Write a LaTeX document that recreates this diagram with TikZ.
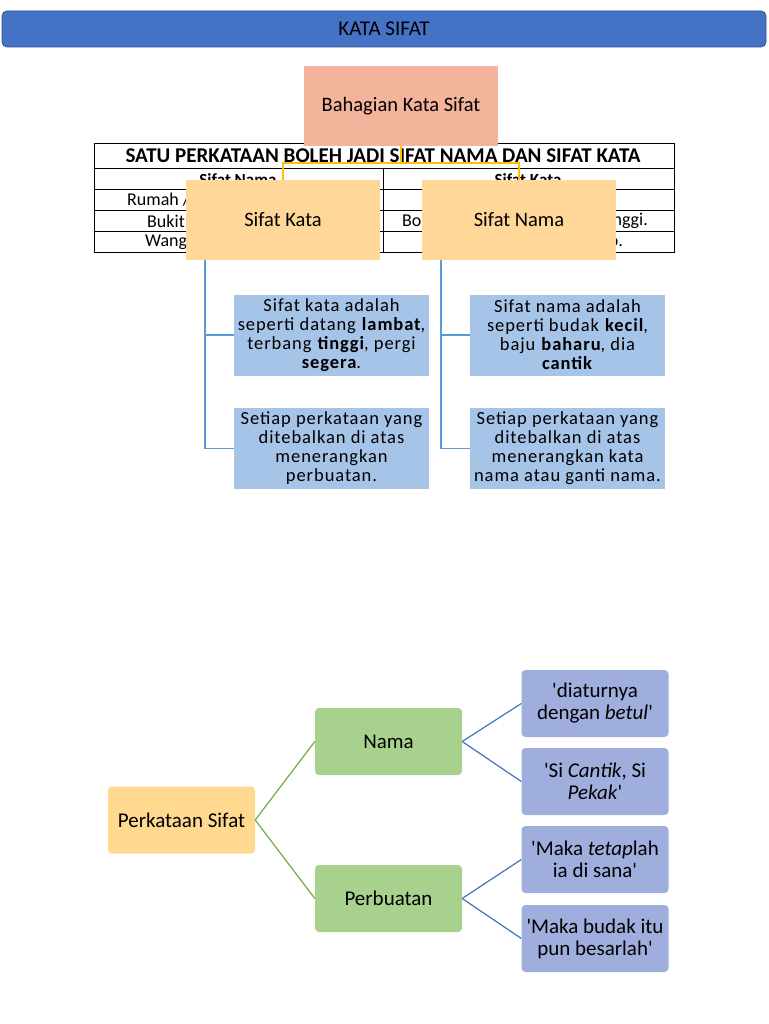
\documentclass[tikz,border=0pt]{standalone}
\usepackage{fontspec}
\setmainfont{Carlito}[Ligatures=TeXOff]
\usetikzlibrary{calc}
\definecolor{titleblue}{HTML}{4472C4}
\definecolor{titleedge}{HTML}{2F528F}
\definecolor{salmon}{HTML}{F4B49C}
\definecolor{peach}{HTML}{FFD899}
\definecolor{lblue}{HTML}{A6C3E8}
\definecolor{linkblue}{HTML}{5B9BD5}
\definecolor{yel}{HTML}{FFC000}
\definecolor{orng}{HTML}{FFD98F}
\definecolor{grn}{HTML}{A9D18E}
\definecolor{grnline}{HTML}{70AD47}
\definecolor{lav}{HTML}{A0AEDD}
\definecolor{lavline}{HTML}{4472C4}
\tikzset{
  box/.style={rectangle, inner sep=0pt, align=center, font=\fontsize{18.5}{19}\selectfont},
  topbox/.style={box, minimum width=194pt, minimum height=80pt, font=\fontsize{20.5}{24}\selectfont},
  bluebox/.style={box, fill=lblue, minimum width=195pt, minimum height=81pt, font=\fontsize{18.5}{19}\selectfont\addfontfeature{LetterSpace=5}},
  rbox/.style={rectangle, rounded corners=4pt, inner sep=0pt, align=center, minimum width=147pt, minimum height=67pt, font=\fontsize{21}{22}\selectfont},
  tcell/.style={inner sep=0pt, font=\fontsize{18}{20}\selectfont},
}
\begin{document}
\begin{tikzpicture}[x=1pt,y=-1pt]
\useasboundingbox (0,0) rectangle (768,1024);
\fill[white] (0,0) rectangle (768,1024);
% title
\node[rectangle, rounded corners=5pt, fill=titleblue, draw=titleedge, line width=0.8pt, minimum width=764pt, minimum height=36pt, inner sep=0pt, font=\fontsize{21}{24}\selectfont] (title) at (384,29) {KATA SIFAT};
% table
\draw[black, line width=0.9pt] (94,143) rectangle (674,252);
\foreach \yy in {168,189,210,231} \draw[black, line width=0.9pt] (94,\yy) -- (674,\yy);
\draw[black, line width=0.9pt] (383,168) -- (383,252);
\node[tcell, font=\bfseries\fontsize{21}{24}\selectfont] (thead) at (383,156) {SATU PERKATAAN BOLEH JADI SIFAT NAMA DAN SIFAT KATA};
\node[tcell, font=\bfseries\fontsize{17}{20}\selectfont] (tsn) at (238,179.5) {Sifat Nama};
\node[tcell, font=\bfseries\fontsize{17}{20}\selectfont] (tsk) at (528,179.5) {Sifat Kata};
\node[tcell, anchor=west] (r1) at (127,200) {Rumah /};
\node[tcell, anchor=west] (r2) at (147,221) {Bukit};
\node[tcell, anchor=west] (r3) at (145,242) {Wang};
\node[tcell, anchor=west] (r4) at (402,221) {Bo};
\node[tcell, anchor=east] (r5) at (648,221) {nggi.};
\node[tcell, anchor=east] (r6) at (623,242) {o.};
% bahagian
\node[topbox, fill=salmon] (bah) at (401,106) {Bahagian Kata Sifat};
\coordinate (ym) at (401,163);
\draw[yel, line width=1.1pt] (bah.south) -- (ym);
% sifat boxes
\node[topbox, fill=peach] (sk) at (283,220) {Sifat Kata};
\node[topbox, fill=peach] (sn) at (519,220) {Sifat Nama};
\draw[yel, line width=1.1pt] (ym) -| (sk.north);
\draw[yel, line width=1.1pt] (ym) -| (sn.north);
% blue boxes
\node[bluebox] (b1) at (331.5,335) {Sifat kata adalah\\seperti datang \textbf{lambat},\\terbang \textbf{tinggi}, pergi\\\textbf{segera}.};
\node[bluebox] (b2) at (331.5,448.5) {Setiap perkataan yang\\ditebalkan di atas\\menerangkan\\perbuatan.};
\node[bluebox] (b3) at (567.5,335) {Sifat nama adalah\\seperti budak \textbf{kecil},\\baju \textbf{baharu}, dia\\\textbf{cantik}};
\node[bluebox] (b4) at (567.5,448.5) {Setiap perkataan yang\\ditebalkan di atas\\menerangkan kata\\nama atau ganti nama.};
\coordinate (skb) at (205,260);
\coordinate (snb) at (441,260);
\draw[linkblue, line width=1.4pt] (skb) |- (b1.west);
\draw[linkblue, line width=1.4pt] (skb) |- (b2.west);
\draw[linkblue, line width=1.4pt] (snb) |- (b3.west);
\draw[linkblue, line width=1.4pt] (snb) |- (b4.west);
% bottom tree
\node[rbox, fill=orng] (ps) at (181.5,820) {Perkataan Sifat};
\node[rbox, fill=grn] (nama) at (388.5,741.5) {Nama};
\node[rbox, fill=grn] (perb) at (388.5,898.5) {Perbuatan};
\node[rbox, fill=lav] (q1) at (595,703.5) {'diaturnya\\dengan \textit{betul}'};
\node[rbox, fill=lav] (q2) at (595,781.5) {'Si \textit{Cantik}, Si\\\textit{Pekak}'};
\node[rbox, fill=lav] (q3) at (595,859.5) {'Maka \textit{tetap}lah\\ia di sana'};
\node[rbox, fill=lav] (q4) at (595,938.5) {'Maka budak itu\\pun besarlah'};
\draw[grnline, line width=1.2pt] (ps.east) -- (nama.west);
\draw[grnline, line width=1.2pt] (ps.east) -- (perb.west);
\draw[lavline, line width=1.2pt] (nama.east) -- (q1.west);
\draw[lavline, line width=1.2pt] (nama.east) -- (q2.west);
\draw[lavline, line width=1.2pt] (perb.east) -- (q3.west);
\draw[lavline, line width=1.2pt] (perb.east) -- (q4.west);
\end{tikzpicture}
\end{document}
